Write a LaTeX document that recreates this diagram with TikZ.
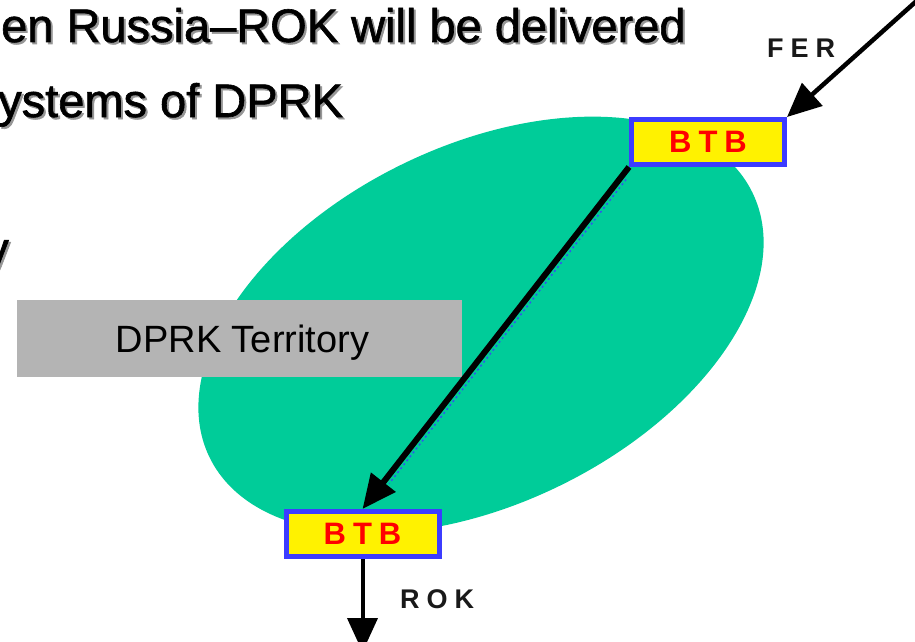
\documentclass[tikz,border=0pt]{standalone}
\usepackage{fontspec}
\setmainfont{Liberation Sans}
\newfontfamily\headfont[FakeBold=1.3]{Liberation Sans}
\usetikzlibrary{arrows.meta}
\definecolor{lagoon}{RGB}{0,204,153}
\definecolor{boxgray}{RGB}{180,180,180}
\definecolor{rimblue}{RGB}{60,60,255}
\definecolor{btbred}{RGB}{255,0,0}
\definecolor{shade}{RGB}{150,150,150}
\begin{document}
\begin{tikzpicture}[x=1pt,y=-1pt,
  btbbox/.style={draw=rimblue, line width=5pt, fill=yellow, text=btbred,
    minimum width=153pt, minimum height=45pt, inner sep=0pt,
    font=\bfseries\fontsize{31}{31}\selectfont},
  headline/.style={inner sep=0pt, font=\headfont\fontsize{47}{47}\selectfont},
  flowlabel/.style={anchor=base west, inner sep=0pt, text=black!90,
    font=\bfseries\fontsize{27}{27}\selectfont},
  flow/.style={line width=#1, -{Triangle[length=34pt,width=30pt]}},
]
\useasboundingbox (0,0) rectangle (915,642);
\clip (0,0) rectangle (915,642);
\fill[white] (0,0) rectangle (915,642);

% heading lines with their drop shadow
\node[headline, anchor=base west, text=shade] (h1s) at (3,44) {en Russia–ROK will be delivered};
\node[headline, anchor=base west] (h1) at (1,42) {en Russia–ROK will be delivered};
\node[headline, anchor=base west, text=shade] (h2s) at (0,119) {ystems of DPRK};
\node[headline, anchor=base west] (h2) at (-2,117) {ystems of DPRK};
\node[headline, anchor=base east, text=shade] (h3s) at (11,267) {y};
\node[headline, anchor=base east] (h3) at (9,265) {y};

% territory
\fill[lagoon, rotate around={26:(481,325)}] (481,325) ellipse [x radius=302, y radius=179];
\node[fill=boxgray, minimum width=445pt, minimum height=77pt, inner sep=0pt] (terr) at (239.5,338.5) {};
\node[anchor=base, inner sep=0pt, font=\fontsize{38}{38}\selectfont] (terrlabel) at (242.5,352) {DPRK Territory};

% border stations
\node[btbbox] (btbTop) at (708,142) {B\kern7pt T\kern7pt B};
\node[btbbox] (btbBot) at (362.5,534) {B\kern7pt T\kern7pt B};

% flows
\coordinate (ferstart) at (921,-3);
\coordinate (rokend) at (362.5,652);
\draw[rimblue, line width=1.5pt, dash pattern=on 2pt off 3pt, opacity=.85,
  shorten <=12pt, shorten >=36pt]
  ([shift={(4.5,3)}]btbTop.south west) -- ([shift={(4.5,3)}]btbBot.north);
\draw[flow=4.5pt] (ferstart) -- (btbTop.north east);
\draw[flow=6pt] (btbTop.south west) -- (btbBot.north);
\draw[flow=4pt] (btbBot.south) -- (rokend);

\node[flowlabel] (fer) at (767,58) {F\kern7pt E\kern7pt R};
\node[flowlabel] (rok) at (400,608) {R\kern7pt O\kern7pt K};
\end{tikzpicture}
\end{document}
